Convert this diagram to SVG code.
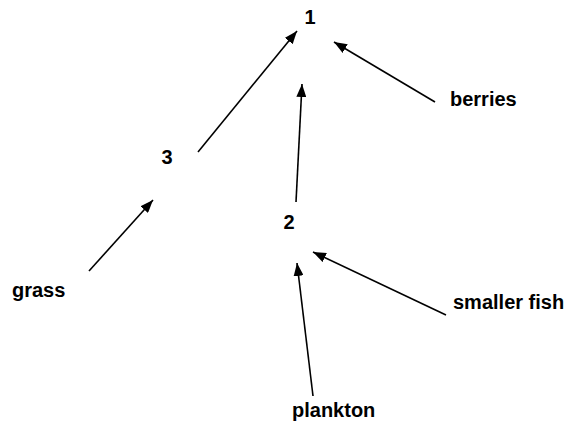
<svg xmlns="http://www.w3.org/2000/svg" width="573" height="425" viewBox="0 0 573 425">
<style>
text{font-family:"Liberation Sans",Arial,sans-serif;font-weight:bold;font-size:20px;fill:#000}
.e{stroke:#000;stroke-width:1.6;fill:none;marker-end:url(#ah)}
</style>
<defs>
<marker id="ah" markerUnits="userSpaceOnUse" markerWidth="14" markerHeight="10" refX="13" refY="5" orient="auto">
<path d="M0,0 L13,5 L0,10 Z" fill="#000"/>
</marker>
</defs>
<rect width="573" height="425" fill="#fff"/>
<g id="connectors">
<line class="e" x1="198" y1="152" x2="297" y2="31"/>
<line class="e" x1="296" y1="202" x2="302" y2="84"/>
<line class="e" x1="435" y1="102" x2="334" y2="42"/>
<line class="e" x1="89" y1="271" x2="153" y2="200"/>
<line class="e" x1="446" y1="315" x2="313" y2="252"/>
<line class="e" x1="313" y1="396" x2="297" y2="263"/>
</g>
<g id="n1"><text x="310" y="24" text-anchor="middle">1</text></g>
<g id="n2"><text x="289" y="229" text-anchor="middle">2</text></g>
<g id="n3"><text x="167" y="164" text-anchor="middle">3</text></g>
<g id="berries"><text x="450" y="106">berries</text></g>
<g id="grass"><text x="12" y="297">grass</text></g>
<g id="smallerfish"><text x="453" y="309">smaller fish</text></g>
<g id="plankton"><text x="292" y="417">plankton</text></g>
</svg>
